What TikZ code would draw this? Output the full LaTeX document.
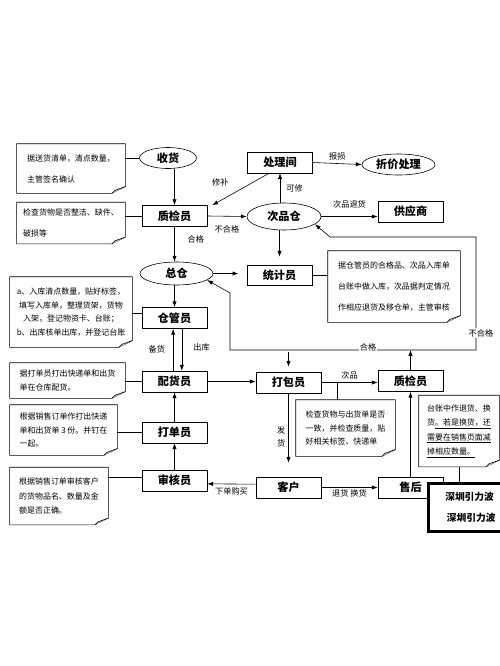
\documentclass[tikz,border=0pt]{standalone}
\usepackage{fontspec}
\setmainfont{Noto Sans CJK SC}
\usetikzlibrary{arrows.meta, shapes.geometric}
\tikzset{every picture/.style={x=0.03cm, y=-0.03cm, line width=0.5pt, >={Latex[length=5pt,width=3.6pt]}},
  box/.style={rectangle, draw, inner sep=0pt, minimum width=1.95cm, minimum height=0.63cm, font=\bfseries\fontsize{9.5}{11}\selectfont},
  oval/.style={ellipse, draw, inner sep=0pt, minimum height=0.63cm, font=\bfseries\fontsize{9.5}{11}\selectfont},
  memo/.style={rectangle, inner sep=0pt, align=left, font=\fontsize{6.8}{11.5}\selectfont},
  lbl/.style={inner sep=1pt, font=\fontsize{7}{8}\selectfont},
  wmbox/.style={rectangle, draw, line width=2.2pt, fill=white, inner xsep=5.1mm, inner ysep=0pt, align=left, font=\bfseries\fontsize{8.3}{18.7}\selectfont}}

\begin{document}
\begin{tikzpicture}
        \path[use as bounding box] (0,0) rectangle (500,666);
        \clip (0,0) rectangle (500,666);

        % main flow
        \node[oval, minimum width=1.71cm] (recv) at (168,158) {收货};
        \node[box] (qc) at (174.5,216) {质检员};
        \node[box] (proc) at (280,162.5) {处理间};
        \node[oval, minimum width=2.19cm] (disc) at (398.5,164.5) {折价处理};
        \node[oval, minimum width=2.22cm, minimum height=0.81cm] (defw) at (284,216.5) {次品仓};
        \node[box] (supp) at (410.5,211.5) {供应商};
        \node[oval, minimum width=2.19cm, minimum height=0.69cm] (mainw) at (176.5,273.5) {总仓};
        \node[box, minimum height=0.6cm] (stat) at (279.5,275) {统计员};
        \node[box] (keep) at (174.5,318) {仓管员};
        \node[box] (pick) at (174.5,381.5) {配货员};
        \node[box] (pack) at (288.5,382.5) {打包员};
        \node[box] (qc2) at (410.5,381) {质检员};
        \node[box] (prnt) at (174.5,432.5) {打单员};
        \node[box] (audit) at (174.5,480.5) {审核员};
        \node[box] (cust) at (288.5,487.5) {客户};
        \node[box] (after) at (410.5,487.5) {售后};

        % notes
        \node[memo, minimum width=3.24cm, minimum height=1.47cm, font=\fontsize{6.8}{18}\selectfont] (t1) at (71,168.5) {据送货清单，清点数量，\\主管签名确认};
        \node[memo, minimum width=3.24cm, minimum height=1.23cm, font=\fontsize{6.8}{18}\selectfont] (t2) at (71,223) {检查货物是否整洁、缺件、\\破损等};
        \node[memo, minimum width=3.96cm, minimum height=2.13cm, font=\fontsize{6.8}{18}\selectfont] (t3) at (394,286.5) {据仓管员的合格品、次品入库单\\台账中做入库，次品据判定情况\\作相应退货及移仓单，主管审核};
        \node[memo, minimum width=3.66cm, minimum height=2.1cm, align=center] (t4) at (71,312) {a、入库清点数量，贴好标签，\\填写入库单，整理货架，货物\\入架，登记物资卡、台账；\\b、出库核单出库，并登记台账};
        \node[memo, minimum width=3.45cm, minimum height=1.05cm] (t5) at (67.5,380.5) {据打单员打出快递单和出货\\单在仓库配货。};
        \node[memo, minimum width=2.97cm, minimum height=1.68cm] (t6) at (345.5,428) {检查货物与出货单是否\\一致，并检查质量，贴\\好相关标签、快递单};
        \node[memo, minimum width=3.21cm, minimum height=1.5cm] (t7) at (63.5,430) {根据销售订单作打出快递\\单和出货单 3 份。并钉在\\一起。};
        \node[memo, minimum width=2.94cm, minimum height=1.71cm, font=\fontsize{6.8}{12.3}\selectfont] (t8) at (59,496) {根据销售订单审核客户\\的货物品名、数量及金\\额是否正确。};
        \node[memo, minimum width=2.4cm, minimum height=2.13cm, font=\fontsize{6.8}{12.3}\selectfont] (t9) at (459,431) {台账中作退货、换\\货\underline{。若是换货，还}\\\underline{需要在销售页面减}\\\underline{掉相应数量。}};

        \foreach \t in {t1,t2,t3,t4,t5,t6,t7,t8,t9} {
          \draw (\t.north west) -- (\t.north east) -- ([yshift=2mm]\t.south east) -- ([xshift=-4mm]\t.south east) -- (\t.south west) -- cycle;
          \draw[fill=black!20] ([yshift=2mm]\t.south east) -- ([xshift=-3.1mm,yshift=0.9mm]\t.south east) -- ([xshift=-4mm]\t.south east);
        }

        % note links
        \draw (t1.east |- recv) -- (recv.west);
        \draw (t2.east |- qc) -- (qc.west);
        \draw (stat.east) -- (stat.east -| t3.west);
        \draw ([yshift=1.5mm]keep.west) -- ([yshift=1.5mm]keep.west -| t4.east);
        \draw (t5.east |- pick) -- (pick.west);
        \draw (t7.east |- prnt) -- (prnt.west);
        \draw ([yshift=1mm]audit.west) -- ([yshift=1mm]audit.west -| t8.east);

        % arrows
        \draw[->] (recv.south -| qc) -- (qc.north);
        \draw[->] ([xshift=-3.3mm]proc.south) -- ([xshift=1.5mm]qc.north east) node[lbl, pos=0.6, above left=1.5mm] {修补};
        \draw[->] (qc.east) -- (defw.west) node[lbl, midway, below=2.5mm] {不合格};
        \draw[->] (defw.north -| proc) -- (proc.south) node[lbl, midway, right=1.5mm] {可修};
        \draw[->] (proc.east) -- (disc.west) node[lbl, midway, above=0.6mm] {报损};
        \draw[->] (defw.east) -- (defw.east -| supp.west) node[lbl, midway, above=2mm] {次品退货};
        \draw[->] (defw.south -| stat) -- ([yshift=2.4mm]stat.north);
        \draw[->] (qc.south) -- (mainw.north -| qc) node[lbl, pos=0.35, right=3.5mm] {合格};
        \draw[->] (mainw.east) -- ([xshift=-2.5mm]mainw.east -| stat.west);
        \draw[->] (mainw.south -| keep) -- (keep.north);
        \draw[->] ([xshift=-0.4mm]pick.north) -- ([xshift=-0.4mm]keep.south) node[lbl, midway, left=2mm] {备货};
        \draw[->] ([xshift=2.2mm]keep.south) -- ([xshift=2.2mm]pick.north) node[lbl, pos=0.45, right=3mm] {出库};
        \draw[->] (pick.east) -- (pick.east -| pack.west);
        \draw[->] (pack.east) -- (pack.east -| qc2.west) node[lbl, midway, above=0.7mm] {次品};
        \draw[->] (pack.south) -- ([yshift=4.2mm]cust.north) node[lbl, pos=0.63, left=0.5mm, align=center, font=\fontsize{7}{11}\selectfont] {发\\货};
        \draw[->] ([yshift=1mm]cust.west) -- ([yshift=-1mm]audit.east) node[lbl, midway, below=0.6mm] {下单购买};
        \draw[->] (audit.north) -- (prnt.south);
        \draw[->] (prnt.north) -- (pick.south);
        \draw[->] (cust.east) -- (after.west) node[lbl, midway, below=0.3mm] {退货 换货};
        \draw[->] (after.north) -- (qc2.south);

        % second check: back to stock or to defect store
        \coordinate (jn) at (410.5,350);
        \coordinate (ql) at (230,350);
        \coordinate (qu) at (230,293);
        \coordinate (qr) at (476,350);
        \coordinate (qt) at (476,237);
        \coordinate (qs) at (330,237);
        \coordinate (pk) at (288.5,352);
        \coordinate (j6) at (337,382.5);
        \draw[->] (qc2.north) -- (jn);
        \draw[->] (jn) -- (ql) -- (qu) -- (mainw.-12);
        \draw[->] (jn) -- (qr) -- (qt) -- (qs) -- (defw.-14);
        \draw[->] (pk) -- ([yshift=1.5mm]pack.north);
        \node[lbl, fill=white] at (368,347) {合格};
        \node[lbl, fill=white] at (481,333) {不合格};
        \draw (j6) -- (j6 |- t6.north);

        % stamp over the corner
        \node[wmbox, anchor=north west, text width=2.3cm, minimum height=1.44cm] (wm) at (427,482) {深圳引力波\\\hspace{0.5mm}深圳引力波};
        \draw (t9.south) -- (t9.south |- wm.north);
      \end{tikzpicture}
\end{document}
